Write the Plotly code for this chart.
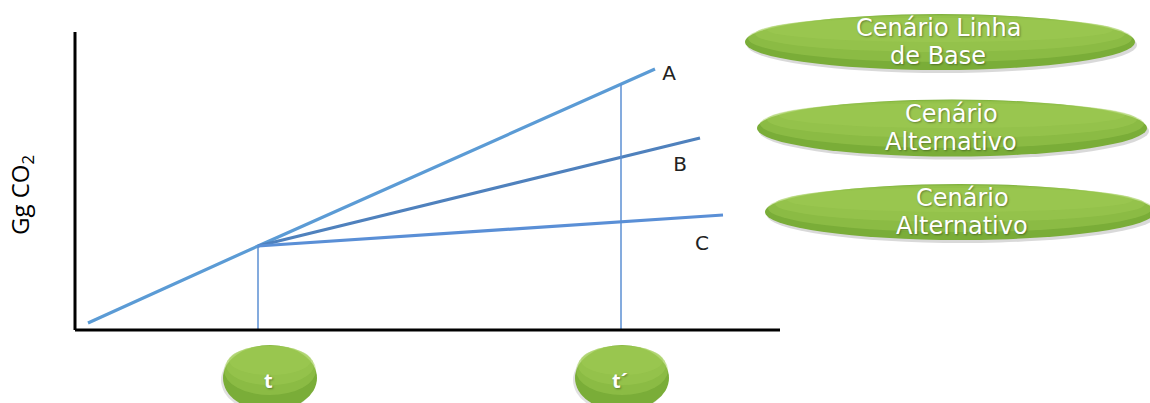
import plotly.graph_objects as go

# data (x: time, y: Gg CO2, arbitrary units)
t_start = 0.13
t_break = 1.83
t_prime = 5.46
y_start = 0.07
y_break = 0.84

scenario_names = ["A", "B", "C"]
scenario_end_x = [5.80, 6.25, 6.48]
scenario_end_y = [2.61, 1.92, 1.15]
scenario_colors = ["#5b9bd5", "#4f81bd", "#5a8fd6"]
label_x = [5.94, 6.05, 6.27]
label_y = [2.55, 1.64, 0.85]

axis_x_max = 7.05
axis_y_max = 2.98

time_labels = ["t", "t´"]
time_values = [t_break, t_prime]
time_badge_offset = [0.12, 0.01]

box_lines = [["Cenário Linha", "de Base"], ["Cenário", "Alternativo"], ["Cenário", "Alternativo"]]
box_centers_px = [(940, 42), (952, 128), (960, 212)]
box_sizes_px = [(390, 56), (390, 57), (390, 56)]
box_text_x_px = [938, 951, 962]

W, H = 1150, 403
GREEN_DARK = "#7aad38"
FONT = "Open Sans"
TEXT_SHADOW = "1px 1px 2px rgba(0,0,0,0.35)"
HIGHLIGHT = "rgba(160,205,85,0.45)"

fig = go.Figure()


def px_x(px):
    return (px - 75) / 100


def px_y(py):
    return (330 - py) / 100


# main lines
fig.add_trace(go.Scatter(
    x=[t_start, t_break, scenario_end_x[0]], y=[y_start, y_break, scenario_end_y[0]],
    mode="lines", line=dict(color=scenario_colors[0], width=3.2), hoverinfo="skip",
))
for i in (1, 2):
    fig.add_trace(go.Scatter(
        x=[t_break, scenario_end_x[i]], y=[y_break, scenario_end_y[i]],
        mode="lines", line=dict(color=scenario_colors[i], width=3.2), hoverinfo="skip",
    ))

# vertical guide lines at t and t'
slope_a = (scenario_end_y[0] - y_break) / (scenario_end_x[0] - t_break)
for tv in time_values:
    top = y_break + slope_a * (tv - t_break)
    fig.add_trace(go.Scatter(
        x=[tv, tv], y=[0, top], mode="lines",
        line=dict(color="#5b8fd3", width=1.5), hoverinfo="skip",
    ))

# scenario letters
fig.add_trace(go.Scatter(
    x=label_x, y=label_y, mode="text", text=scenario_names,
    textfont=dict(family="DejaVu Sans", size=20, color="#222222"),
    textposition="middle center", hoverinfo="skip",
))

# axes
fig.add_shape(type="line", x0=0, x1=axis_x_max, y0=0, y1=0,
              line=dict(color="black", width=3))
fig.add_shape(type="line", x0=0, x1=0, y0=0, y1=axis_y_max,
              line=dict(color="black", width=3))

# time badges
for lab, tv, off in zip(time_labels, time_values, time_badge_offset):
    cx = tv + off
    fig.add_shape(type="circle", x0=cx - 0.49, x1=cx + 0.45,
                  y0=px_y(413), y1=px_y(347),
                  fillcolor="rgba(0,0,0,0.12)", line=dict(width=0), layer="below")
    fig.add_shape(type="circle", x0=cx - 0.47, x1=cx + 0.47,
                  y0=px_y(411), y1=px_y(345),
                  fillcolor=GREEN_DARK, line=dict(width=0), layer="below")
    for shrink, bottom in [(0.01, 395), (0.03, 385), (0.06, 375)]:
        fig.add_shape(type="circle", x0=cx - 0.47 + shrink, x1=cx + 0.47 - shrink,
                      y0=px_y(bottom), y1=px_y(345 + shrink * 20),
                      fillcolor=HIGHLIGHT, line=dict(width=0), layer="below")
    fig.add_annotation(x=cx - 0.02, y=px_y(380), text="<b>" + lab + "</b>", showarrow=False,
                       xanchor="center", yanchor="middle",
                       font=dict(family=FONT, size=20, color="white", shadow=TEXT_SHADOW))

# scenario boxes (right)
for lines, (cx, cy), (bw, bh), tx in zip(box_lines, box_centers_px, box_sizes_px, box_text_x_px):
    x0, x1 = cx - bw / 2, cx + bw / 2
    y0, y1 = cy - bh / 2, cy + bh / 2
    fig.add_shape(type="circle", xref="paper", yref="paper",
                  x0=(x0 + 2) / W, x1=(x1 + 2) / W, y0=1 - (y1 + 3) / H, y1=1 - (y0 + 3) / H,
                  fillcolor="rgba(0,0,0,0.15)", line=dict(width=0))
    fig.add_shape(type="circle", xref="paper", yref="paper",
                  x0=x0 / W, x1=x1 / W, y0=1 - y1 / H, y1=1 - y0 / H,
                  fillcolor=GREEN_DARK, line=dict(width=0))
    for shrink, bottom in [(3, cy + 20), (10, cy + 10), (22, cy)]:
        fig.add_shape(type="circle", xref="paper", yref="paper",
                      x0=(x0 + shrink) / W, x1=(x1 - shrink) / W,
                      y0=1 - bottom / H, y1=1 - (y0 + shrink / 6) / H,
                      fillcolor=HIGHLIGHT, line=dict(width=0))
    for k, line in enumerate(lines):
        ly = cy - 14 + 28 * k
        fig.add_annotation(xref="paper", yref="paper", x=tx / W, y=1 - ly / H,
                           text=line, showarrow=False, xanchor="center", yanchor="middle",
                           font=dict(family="DejaVu Sans", size=24, color="white",
                                     shadow=TEXT_SHADOW))

# y-axis title
fig.add_annotation(xref="paper", yref="paper", x=21 / W, y=1 - 195 / H,
                   text="Gg CO<sub>2</sub>", textangle=-90, showarrow=False,
                   xanchor="center", yanchor="middle",
                   font=dict(family=FONT, size=24, color="black"))

fig.update_layout(
    width=W, height=H,
    margin=dict(l=0, r=0, t=0, b=0),
    paper_bgcolor="white", plot_bgcolor="white",
    showlegend=False,
    xaxis=dict(range=[px_x(0), px_x(W)], visible=False, fixedrange=True),
    yaxis=dict(range=[px_y(H), px_y(0)], visible=False, fixedrange=True),
)

fig.write_html("out.html", config={"displayModeBar": False},
               post_script="document.body.style.margin='0';")
